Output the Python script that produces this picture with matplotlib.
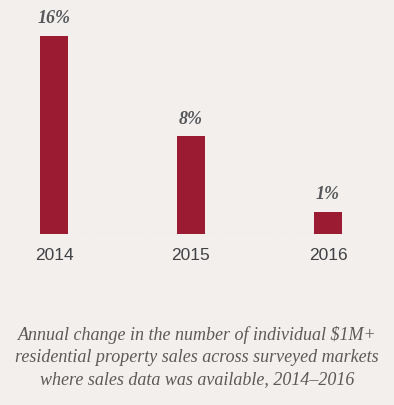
import numpy as np
import matplotlib.pyplot as plt

# Data
years = ['2014', '2015', '2016']
heights = [16, 7.9, 1.8]
value_labels = ['16%', '8%', '1%']
caption = ('Annual change in the number of individual $1M+\n'
           'residential property sales across surveyed markets\n'
           'where sales data was available, 2014\u20132016')

bg = '#f3efec'
bar_color = '#9b1b33'
text_grey = '#55575b'

fig = plt.figure(figsize=(3.94, 4.06), dpi=100, facecolor=bg)
ax = fig.add_axes([0, 0.421, 1, 0.579])
ax.set_facecolor(bg)

x = np.arange(len(years))
w = 0.204
ax.bar(x, heights, width=w, color=bar_color, zorder=2)
ax.hlines(0, x[0] - w / 2, x[-1] + w / 2, colors='#9a9a9a',
          linestyles=(0, (1, 1.5)), linewidth=0.8, zorder=1)

for xi, h, lab in zip(x, heights, value_labels):
    ax.annotate(lab, (xi, h), xytext=(0, 13), textcoords='offset points',
                ha='center', va='center', fontsize=13, color=text_grey,
                family=['Liberation Serif', 'DejaVu Serif'],
                style='italic', weight='bold')

for xi, yr in zip(x, years):
    ax.annotate(yr, (xi, 0), xytext=(0, -15), textcoords='offset points',
                ha='center', va='center', fontsize=12.5, color='#3f4145',
                family=['Liberation Sans', 'DejaVu Sans'])

ax.set_xlim(-0.394, 2.482)
ax.set_ylim(0, 18.99)
ax.axis('off')

fig.text(0.5, 1 - 357 / 406, caption, ha='center', va='center',
         fontsize=13, color='#5a5a5a', style='italic', linespacing=1.4,
         family=['Liberation Serif', 'DejaVu Serif'])

fig.savefig('out.png', dpi=100, facecolor=bg)
